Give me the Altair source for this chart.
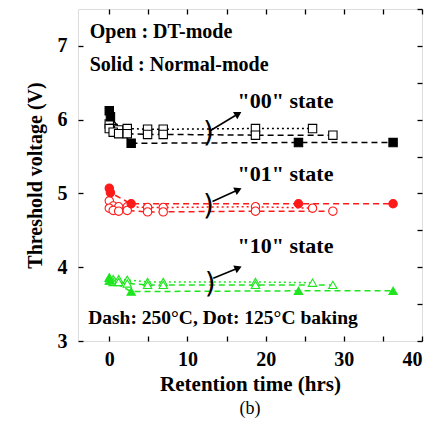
import altair as alt
import pandas as pd

# ---------------- data ----------------
STATES = ["00", "01", "10"]

T_DT125 = [0, 0.5, 1.2, 2.3, 4.9, 6.9, 18.7, 26.0]
T_DT250 = [0, 0.5, 1.2, 2.3, 4.9, 6.9, 18.7, 28.6]
T_NORM = [0, 0.15, 2.8, 24.2, 36.3]

V00_DT125 = [5.94, 5.88, 5.86, 5.88, 5.87, 5.87, 5.88, 5.88]
V00_DT250 = [5.88, 5.83, 5.81, 5.81, 5.80, 5.80, 5.79, 5.79]
V00_NORM = [6.12, 6.04, 5.68, 5.69, 5.69]

V01_DT125 = [4.90, 4.83, 4.82, 4.82, 4.81, 4.81, 4.82, 4.80]
V01_DT250 = [4.80, 4.77, 4.76, 4.77, 4.75, 4.75, 4.76, 4.76]
V01_NORM = [5.07, 5.01, 4.86, 4.86, 4.86]

V10_DT125 = [3.86, 3.84, 3.84, 3.83, 3.80, 3.80, 3.80, 3.79]
V10_DT250 = [3.82, 3.80, 3.80, 3.78, 3.76, 3.76, 3.76, 3.76]
V10_NORM = [3.86, 3.82, 3.67, 3.68, 3.68]

X_TICKS = [0, 5, 10, 15, 20, 25, 30, 35, 40]
Y_TICKS = [3, 3.5, 4, 4.5, 5, 5.5, 6, 6.5, 7, 7.5]
X_DOMAIN = [-4, 40]
Y_DOMAIN = [3, 7.5]

TOP_TEXT = ["Open : DT-mode", "Solid : Normal-mode"]
TOP_T = [-2.5, -2.5]
TOP_V = [7.19, 6.74]

STATE_TEXT = ['"00" state', '"01" state', '"10" state']
STATE_T = [16.4, 16.4, 16.4]
STATE_V = [6.25, 5.26, 4.29]

BOTTOM_TEXT = ["Dash: 250°C, Dot: 125°C baking"]
BOTTOM_T = [-2.7]
BOTTOM_V = [3.31]

CURL_T = [12.7, 12.7, 12.9]
CURL_V = [5.80, 4.81, 3.76]
ARROW_T0 = [12.9, 13.2, 13.3]
ARROW_V0 = [5.85, 4.89, 3.85]
ARROW_T1 = [16.5, 16.5, 16.5]
ARROW_V1 = [6.08, 5.05, 3.99]
ARROW_ANGLE = [59, 65, 66]

# ---------------- build table ----------------
rows = []
groups = [
    (V00_DT125, V00_DT250, V00_NORM),
    (V01_DT125, V01_DT250, V01_NORM),
    (V10_DT125, V10_DT250, V10_NORM),
]
for st, (v125, v250, vn) in zip(STATES, groups):
    for t, v in zip(T_DT125, v125):
        rows.append(dict(t=t, v=v, state=st, mode="DT", temp="125", series=st + "DT125"))
    for t, v in zip(T_DT250, v250):
        rows.append(dict(t=t, v=v, state=st, mode="DT", temp="250", series=st + "DT250"))
    for t, v in zip(T_NORM, vn):
        rows.append(dict(t=t, v=v, state=st, mode="N", temp="250", series=st + "N250"))
df = pd.DataFrame(rows)

BLACK, RED, GREEN = "#000000", "#ff1a1a", "#1ee51e"
FONT = "Liberation Serif"

xs = alt.Scale(domain=X_DOMAIN, nice=False, zero=False)
ys = alt.Scale(domain=Y_DOMAIN, nice=False, zero=False)
color_scale = alt.Scale(domain=STATES, range=[BLACK, RED, GREEN])

common_axis = dict(domain=False, grid=False, offset=-5, tickSize=5, tickWidth=1.3,
                   tickColor="black", labelColor="black", titleColor="black",
                   labelFont=FONT, labelFontSize=20, labelFontWeight="bold",
                   titleFont=FONT, titleFontWeight="bold")

x_axis = alt.Axis(values=X_TICKS, labelExpr="datum.value % 10 === 0 ? format(datum.value, 'd') : ''",
                  title="Retention time (hrs)", titleFontSize=21, labelPadding=8,
                  titlePadding=4, **common_axis)
y_axis = alt.Axis(values=Y_TICKS, labelExpr="datum.value % 1 === 0 ? format(datum.value, 'd') : ''",
                  title="Threshold voltage (V)", titleFontSize=20, labelPadding=11,
                  titlePadding=12, **common_axis)

base = alt.Chart(df)
X = alt.X("t:Q", scale=xs, axis=x_axis)
Y = alt.Y("v:Q", scale=ys, axis=y_axis)

lines = base.mark_line(strokeWidth=1.5).encode(
    x=X, y=Y,
    color=alt.Color("state:N", scale=color_scale, legend=None),
    strokeDash=alt.StrokeDash("temp:N", scale=alt.Scale(domain=["250", "125"], range=[[6, 4], [2, 3]]), legend=None),
    detail="series:N",
    order="t:Q",
)

points = base.transform_calculate(
    fillkey="datum.mode === 'DT' ? 'DT' : datum.state"
).mark_point(filled=True, size=70, strokeWidth=1.1, opacity=1).encode(
    x=X, y=Y,
    fill=alt.Fill("fillkey:N", scale=alt.Scale(domain=["00", "01", "10", "DT"], range=[BLACK, RED, GREEN, "white"]), legend=None),
    stroke=alt.Stroke("state:N", scale=color_scale, legend=None),
    shape=alt.Shape("state:N", scale=alt.Scale(domain=STATES, range=["square", "circle", "triangle-up"]), legend=None),
)

top_df = pd.DataFrame({"t": TOP_T, "v": TOP_V, "txt": TOP_TEXT})
top_text = alt.Chart(top_df).mark_text(align="left", baseline="middle", font=FONT, fontSize=20,
                                       fontWeight="bold", color="black").encode(
    x=alt.X("t:Q", scale=xs), y=alt.Y("v:Q", scale=ys), text="txt:N")

st_df = pd.DataFrame({"t": STATE_T, "v": STATE_V, "txt": STATE_TEXT})
st_text = alt.Chart(st_df).mark_text(align="left", baseline="middle", font=FONT, fontSize=22,
                                     fontWeight="bold", color="black").encode(
    x=alt.X("t:Q", scale=xs), y=alt.Y("v:Q", scale=ys), text="txt:N")

bt_df = pd.DataFrame({"t": BOTTOM_T, "v": BOTTOM_V, "txt": BOTTOM_TEXT})
bt_text = alt.Chart(bt_df).mark_text(align="left", baseline="middle", font=FONT, fontSize=19.5,
                                     fontWeight="bold", color="black").encode(
    x=alt.X("t:Q", scale=xs), y=alt.Y("v:Q", scale=ys), text="txt:N")

curl_df = pd.DataFrame({"t": CURL_T, "v": CURL_V, "txt": [")", ")", ")"]})
curl = alt.Chart(curl_df).mark_text(align="center", baseline="middle", font="DejaVu Sans", fontSize=28,
                                    fontWeight="normal", color="black").encode(
    x=alt.X("t:Q", scale=xs), y=alt.Y("v:Q", scale=ys), text="txt:N")

arr_df = pd.DataFrame({"t0": ARROW_T0, "v0": ARROW_V0, "t1": ARROW_T1, "v1": ARROW_V1, "ang": ARROW_ANGLE})
arrow_line = alt.Chart(arr_df).mark_rule(strokeWidth=1.6, color="black").encode(
    x=alt.X("t0:Q", scale=xs), y=alt.Y("v0:Q", scale=ys), x2="t1:Q", y2="v1:Q")
arrow_head = alt.Chart(arr_df).mark_point(shape="triangle-up", filled=True, size=70, color="black",
                                          opacity=1).encode(
    x=alt.X("t1:Q", scale=xs), y=alt.Y("v1:Q", scale=ys),
    angle=alt.Angle("ang:Q", scale=None))

main = alt.layer(lines, points, top_text, st_text, bt_text, curl, arrow_line, arrow_head)

mirror_axis = dict(labels=False, title=None, **{k: v for k, v in common_axis.items()
                                                  if not k.startswith("label") and not k.startswith("title")})
frame = alt.Chart(pd.DataFrame({"t": [0], "v": [5]})).mark_point(opacity=0).encode(
    x=alt.X("t:Q", scale=xs, axis=alt.Axis(orient="top", values=X_TICKS, **mirror_axis)),
    y=alt.Y("v:Q", scale=ys, axis=alt.Axis(orient="right", values=Y_TICKS, **mirror_axis)),
)

chart = alt.layer(main, frame).resolve_scale(x="independent", y="independent").properties(
    width=344, height=332,
    padding={"left": 17, "top": 0, "right": 2, "bottom": 0},
    title=alt.TitleParams("(b)", orient="bottom", font=FONT, fontSize=18, fontWeight="normal",
                          color="black", offset=6),
).configure_view(stroke="black", strokeWidth=1.5).configure(background="white")

chart.save("out.html", embed_options={"renderer": "svg", "actions": False})
